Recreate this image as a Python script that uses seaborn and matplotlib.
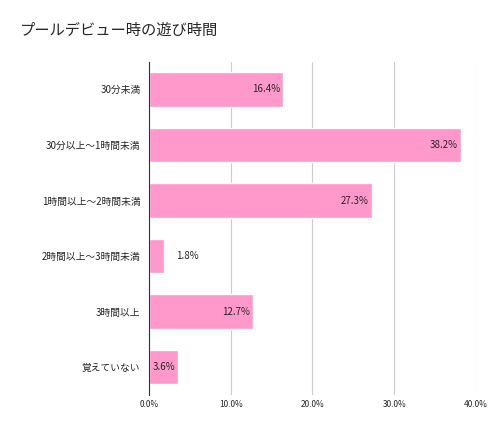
import matplotlib
matplotlib.use("Agg")
import matplotlib.pyplot as plt
import seaborn as sns
import pandas as pd

categories = ["30分未満", "30分以上～1時間未満", "1時間以上～2時間未満", "2時間以上～3時間未満", "3時間以上", "覚えていない"]
values = [16.4, 38.2, 27.3, 1.8, 12.7, 3.6]
ticks = [0, 10, 20, 30, 40]

sns.set_style("white")
plt.rcParams['font.family'] = ['Noto Sans CJK JP', 'DejaVu Sans']

df = pd.DataFrame({"cat": categories, "val": values})
fig = plt.figure(figsize=(4.98, 4.34), dpi=100)
ax = fig.add_axes([0.299, 0.09, 0.657, 0.768])
sns.barplot(data=df, x="val", y="cat", color="#ff99cc", saturation=1, width=0.62, ax=ax)
ax.set_xlim(0, 40)
ax.set_xticks(ticks)
ax.set_xticklabels([f"{t:.1f}%" for t in ticks], fontsize=6)
ax.tick_params(axis='y', labelsize=7, length=0, pad=6)
ax.tick_params(axis='x', length=0)
ax.set_xlabel(""); ax.set_ylabel("")
ax.grid(axis='x', color='#cccccc', linewidth=0.8)
ax.set_axisbelow(True)
for s in ["top", "right", "bottom"]:
    ax.spines[s].set_visible(False)
ax.spines["left"].set_color("#333333")
for i, v in enumerate(values):
    if v < 3:
        ax.text(v + 1.5, i, f"{v}%", va='center', ha='left', fontsize=7)
    else:
        ax.text(v - 0.4, i, f"{v}%", va='center', ha='right', fontsize=7)
fig.text(0.04, 0.93, "プールデビュー時の遊び時間", fontsize=11, ha='left', va='center')
fig.savefig("out.png", dpi=100)
